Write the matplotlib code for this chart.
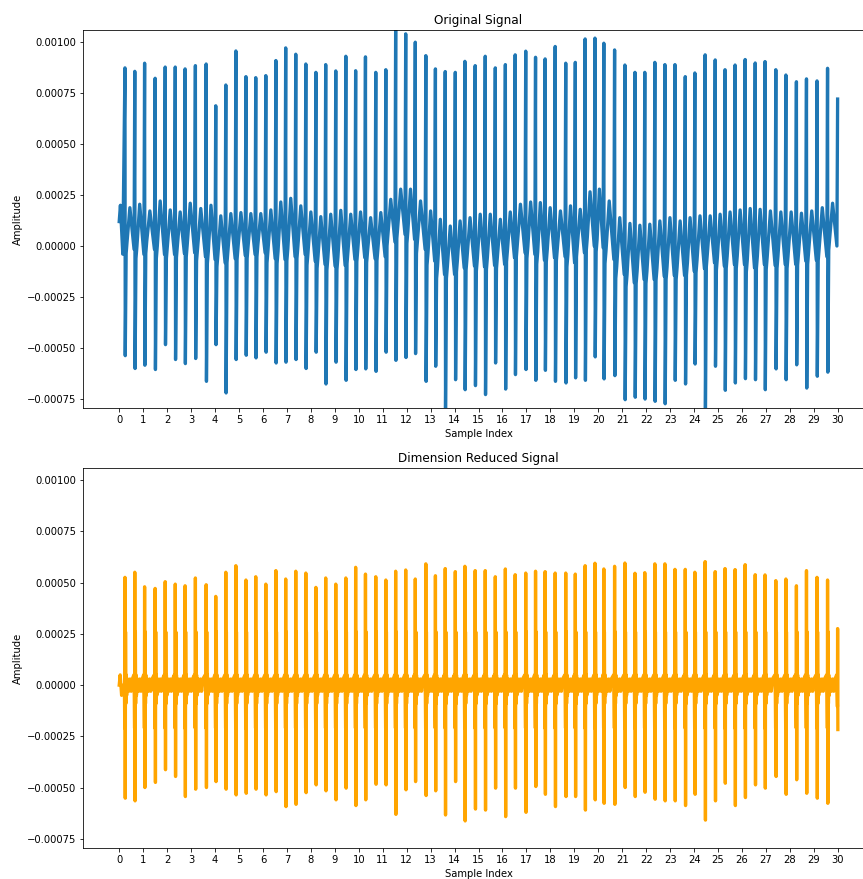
import numpy as np
import matplotlib
matplotlib.use("Agg")
import matplotlib.pyplot as plt

# beat positions (sample index)
beat_x = [0.24, 0.65, 1.06, 1.50, 1.92, 2.34, 2.75, 3.18, 3.63, 4.03,
          4.45, 4.87, 5.29, 5.70, 6.12, 6.54, 6.95, 7.37, 7.79, 8.21,
          8.62, 9.04, 9.46, 9.87, 10.28, 10.71, 11.13, 11.54, 11.96, 12.36,
          12.80, 13.20, 13.61, 14.03, 14.43, 14.86, 15.28, 15.70, 16.12, 16.53,
          16.97, 17.38, 17.78, 18.20, 18.64, 19.04, 19.45, 19.86, 20.23, 20.68,
          21.11, 21.53, 21.94, 22.36, 22.78, 23.20, 23.63, 24.03, 24.46, 24.88,
          25.29, 25.71, 26.13, 26.55, 26.96, 27.41, 27.83, 28.27, 28.69, 29.13,
          29.57, 29.99]

# original signal: spike tops and bottoms per beat
orig_peak = [0.000874, 0.000857, 0.000897, 0.000823, 0.000878, 0.000878, 0.000869, 0.000885, 0.000893, 0.000688,
             0.000790, 0.000957, 0.000831, 0.000826, 0.000836, 0.000910, 0.000972, 0.000941, 0.000893, 0.000852,
             0.000890, 0.000859, 0.000931, 0.000860, 0.000928, 0.000852, 0.000865, 0.001060, 0.001041, 0.001000,
             0.000934, 0.000869, 0.000856, 0.000852, 0.000906, 0.000885, 0.000931, 0.000874, 0.000890, 0.000938,
             0.000956, 0.000926, 0.000918, 0.000979, 0.000897, 0.000901, 0.001016, 0.001020, 0.000995, 0.000962,
             0.000888, 0.000852, 0.000852, 0.000901, 0.000890, 0.000890, 0.000831, 0.000849, 0.000938, 0.000913,
             0.000865, 0.000888, 0.000915, 0.000898, 0.000905, 0.000865, 0.000839, 0.000806, 0.000820, 0.000810,
             0.000872, 0.000721]
orig_trough = [-0.000538, -0.000601, -0.000585, -0.000606, -0.000484, -0.000557, -0.000577, -0.000552, -0.000664, -0.000484,
               -0.000721, -0.000557, -0.000536, -0.000549, -0.000521, -0.000574, -0.000570, -0.000557, -0.000601, -0.000521,
               -0.000677, -0.000570, -0.000659, -0.000606, -0.000603, -0.000615, -0.000521, -0.000561, -0.000547, -0.000528,
               -0.000664, -0.000590, -0.000795, -0.000656, -0.000705, -0.000685, -0.000729, -0.000574, -0.000702, -0.000631,
               -0.000606, -0.000659, -0.000610, -0.000664, -0.000672, -0.000647, -0.000659, -0.000544, -0.000652, -0.000636,
               -0.000754, -0.000742, -0.000751, -0.000762, -0.000774, -0.000659, -0.000677, -0.000579, -0.000795, -0.000590,
               -0.000708, -0.000672, -0.000651, -0.000656, -0.000705, -0.000603, -0.000656, -0.000583, -0.000697, -0.000639,
               -0.000619]
# small wave between beats: top and low point after each beat
orig_wave_top = [0.000188, 0.000205, 0.000172, 0.000221, 0.000177, 0.000167, 0.000210, 0.000184, 0.000200, 0.000148,
                 0.000159, 0.000164, 0.000159, 0.000159, 0.000177, 0.000216, 0.000234, 0.000197, 0.000167, 0.000144,
                 0.000156, 0.000175, 0.000156, 0.000167, 0.000139, 0.000164, 0.000229, 0.000279, 0.000279, 0.000221,
                 0.000172, 0.000131, 0.000098, 0.000123, 0.000139, 0.000156, 0.000156, 0.000131, 0.000167, 0.000205,
                 0.000216, 0.000213, 0.000188, 0.000172, 0.000197, 0.000180, 0.000266, 0.000279, 0.000221, 0.000139,
                 0.000111, 0.000102, 0.000107, 0.000123, 0.000139, 0.000123, 0.000139, 0.000148, 0.000148, 0.000156,
                 0.000167, 0.000177, 0.000184, 0.000180, 0.000172, 0.000167, 0.000167, 0.000161, 0.000172, 0.000188,
                 0.000210]
orig_wave_low = [-0.000016, -0.000041, -0.000016, -0.000041, -0.000041, -0.000036, -0.000033, -0.000052, -0.000066, -0.000082,
                 -0.000062, -0.000046, -0.000041, -0.000033, -0.000062, -0.000066, -0.000052, -0.000041, -0.000074, -0.000090,
                 -0.000098, -0.000095, -0.000066, -0.000057, -0.000062, -0.000052, 0.000020, 0.000057, 0.000033, -0.000016,
                 -0.000074, -0.000139, -0.000139, -0.000107, -0.000098, -0.000102, -0.000095, -0.000090, -0.000057, -0.000033,
                 -0.000041, -0.000069, -0.000057, -0.000052, -0.000082, -0.000033, 0.000000, -0.000008, -0.000066, -0.000139,
                 -0.000180, -0.000164, -0.000164, -0.000148, -0.000144, -0.000144, -0.000123, -0.000111, -0.000082, -0.000098,
                 -0.000090, -0.000090, -0.000107, -0.000090, -0.000095, -0.000090, -0.000090, -0.000074, -0.000069, -0.000052,
                 0.000000]
orig_start = [0.00012, 0.00020, -0.00004]

# dimension reduced signal: spike tops and bottoms per beat
red_peak = [0.000526, 0.000551, 0.000480, 0.000472, 0.000505, 0.000493, 0.000485, 0.000523, 0.000490, 0.000433,
            0.000551, 0.000583, 0.000513, 0.000529, 0.000493, 0.000559, 0.000518, 0.000556, 0.000547, 0.000477,
            0.000523, 0.000493, 0.000523, 0.000575, 0.000542, 0.000529, 0.000513, 0.000556, 0.000562, 0.000518,
            0.000592, 0.000534, 0.000569, 0.000554, 0.000580, 0.000559, 0.000559, 0.000529, 0.000567, 0.000539,
            0.000547, 0.000556, 0.000554, 0.000547, 0.000547, 0.000542, 0.000583, 0.000595, 0.000567, 0.000580,
            0.000596, 0.000546, 0.000549, 0.000592, 0.000592, 0.000565, 0.000565, 0.000551, 0.000603, 0.000554,
            0.000569, 0.000564, 0.000588, 0.000539, 0.000538, 0.000510, 0.000518, 0.000485, 0.000559, 0.000526,
            0.000513, 0.000276]
red_trough = [-0.000552, -0.000565, -0.000500, -0.000475, -0.000413, -0.000446, -0.000544, -0.000508, -0.000500, -0.000471,
              -0.000508, -0.000536, -0.000528, -0.000508, -0.000536, -0.000520, -0.000593, -0.000582, -0.000525, -0.000487,
              -0.000516, -0.000560, -0.000503, -0.000588, -0.000560, -0.000484, -0.000487, -0.000631, -0.000511, -0.000471,
              -0.000539, -0.000516, -0.000634, -0.000471, -0.000663, -0.000605, -0.000610, -0.000503, -0.000642, -0.000503,
              -0.000621, -0.000495, -0.000533, -0.000593, -0.000544, -0.000544, -0.000610, -0.000560, -0.000577, -0.000582,
              -0.000500, -0.000544, -0.000523, -0.000557, -0.000565, -0.000565, -0.000588, -0.000533, -0.000659, -0.000565,
              -0.000479, -0.000588, -0.000549, -0.000487, -0.000503, -0.000446, -0.000533, -0.000462, -0.000528, -0.000552,
              -0.000577, -0.000217]
red_side_up = 0.00026
red_side_down = -0.00021
red_ripple = [0.00005, -0.00005, 0.00003, -0.00003]


def build_original():
    xs = [0.0, 0.05, 0.15]
    ys = list(orig_start)
    for i, t in enumerate(beat_x):
        xs.append(t)
        ys.append(orig_peak[i])
        if i == len(beat_x) - 1:
            break
        nxt = beat_x[i + 1]
        xs += [t + 0.012, t + 0.05, t + 0.09, t + 0.5 * (nxt - t), nxt - 0.03]
        ys += [orig_trough[i], orig_wave_low[i] - 0.00002, orig_wave_low[i] + 0.00004,
               orig_wave_top[i], orig_wave_low[i]]
    return np.array(xs), np.array(ys)


def build_reduced():
    xs = [0.0, 0.04, 0.10, 0.16]
    ys = [0.0, red_ripple[0], red_ripple[1], 0.0]
    for i, t in enumerate(beat_x):
        if i == len(beat_x) - 1:
            xs += [t - 0.02, t - 0.008, t, 30.0]
            ys += [red_ripple[1], red_side_down * 0.5, red_peak[i], red_trough[i]]
            break
        nxt = beat_x[i + 1]
        xs += [t - 0.02, t - 0.008, t, t + 0.012, t + 0.024, t + 0.036, t + 0.05,
               t + 0.07, t + 0.11, t + 0.16, t + 0.21, t + 0.26, t + 0.31, nxt - 0.04]
        ys += [red_ripple[1], red_side_down, red_peak[i], red_trough[i], red_side_up,
               -0.00009, red_ripple[0], red_ripple[1], red_ripple[2], red_ripple[3],
               red_ripple[2], red_ripple[3], red_ripple[2], red_ripple[0]]
    return np.array(xs), np.array(ys)


ox, oy = build_original()
rx, ry = build_reduced()
y_lo, y_hi = oy.min(), oy.max()

fig = plt.figure(figsize=(863 / 72, 879 / 72), dpi=72)
ax1 = fig.add_axes([0.0965, 0.5358, 0.9160, 0.4301])
ax2 = fig.add_axes([0.0965, 0.0353, 0.9160, 0.4323])

ax1.plot(ox, oy, color="#1f77b4", linewidth=3.3)
ax1.set_title("Original Signal")
ax2.plot(rx, ry, color="orange", linewidth=3.3)
ax2.set_title("Dimension Reduced Signal")

for ax in (ax1, ax2):
    ax.set_xlim(-1.5, 31.5)
    ax.set_ylim(y_lo, y_hi)
    ax.set_xticks(range(31))
    ax.set_xlabel("Sample Index")
    ax.set_ylabel("Amplitude")

fig.savefig("out.png", dpi=72)
